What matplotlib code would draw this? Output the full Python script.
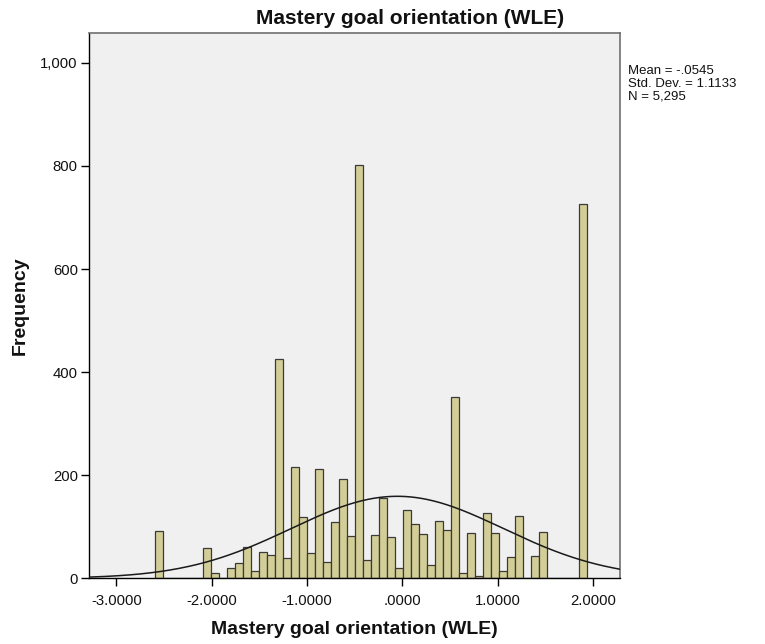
import numpy as np
import matplotlib
matplotlib.use("Agg")
import matplotlib.pyplot as plt

plt.rcParams['font.family'] = ['Liberation Sans', 'DejaVu Sans']

# Histogram data (bins of equal width starting at bin_start)
bin_start = -2.590
bin_width = 0.08386
counts = [92, 0, 0, 0, 0, 0, 58, 10, 0, 20,
          30, 60, 15, 52, 46, 426, 39, 216, 119, 50,
          213, 31, 109, 193, 83, 802, 36, 84, 155, 81,
          20, 132, 105, 86, 26, 111, 93, 351, 10, 87,
          4, 126, 87, 15, 41, 121, 0, 43, 90, 0,
          0, 0, 0, 727]

# Summary statistics
mean_val = -0.0545
sd_val = 1.1133
n_val = 5295

x_ticks = [-3, -2, -1, 0, 1, 2]
x_tick_labels = ["-3.0000", "-2.0000", "-1.0000", ".0000", "1.0000", "2.0000"]
y_ticks = [0, 200, 400, 600, 800, 1000]
y_tick_labels = ["0", "200", "400", "600", "800", "1,000"]

title = "Mastery goal orientation (WLE)"
xlabel = "Mastery goal orientation (WLE)"
ylabel = "Frequency"

fig = plt.figure(figsize=(7.65, 6.44), dpi=100)
ax = fig.add_axes([0.1163, 0.102, 0.8105 - 0.1163, 0.9488 - 0.102])
ax.set_facecolor('#F0F0F0')

lefts = bin_start + bin_width * np.arange(len(counts))
ax.bar(lefts, counts, width=bin_width, align='edge', color='#D3CE97',
       edgecolor='#3a3a3a', linewidth=0.9, zorder=2)

xmin, xmax = -3.287, 2.281
xs = np.linspace(xmin, xmax, 400)
ys = n_val * bin_width / (sd_val * np.sqrt(2 * np.pi)) * np.exp(-0.5 * ((xs - mean_val) / sd_val) ** 2)
ax.plot(xs, ys, color='#1a1a1a', linewidth=1.1, zorder=3)

ax.set_xlim(xmin, xmax)
ax.set_ylim(0, 1058)
ax.set_xticks(x_ticks)
ax.set_xticklabels(x_tick_labels)
ax.set_yticks(y_ticks)
ax.set_yticklabels(y_tick_labels)
ax.tick_params(axis='both', direction='out', length=6, width=1.0, color='black',
               labelsize=10.7, labelcolor='#111111')
ax.tick_params(axis='x', pad=5)
ax.tick_params(axis='y', pad=2)

for side in ['left', 'bottom']:
    ax.spines[side].set_color('black')
    ax.spines[side].set_linewidth(1.0)
for side in ['top', 'right']:
    ax.spines[side].set_color('#707070')
    ax.spines[side].set_linewidth(1.2)

fig.text(410 / 765, 1 - 18 / 644, title, ha='center', va='center',
         fontsize=15, fontweight='bold', color='#111111')
fig.text(354 / 765, 1 - 630 / 644, xlabel, ha='center', va='center',
         fontsize=14, fontweight='bold', color='#111111')
fig.text(20 / 765, 1 - 306 / 644, ylabel, ha='center', va='center',
         rotation=90, fontsize=14, fontweight='bold', color='#111111')

stats = "Mean = -.0545\nStd. Dev. = 1.1133\nN = 5,295"
fig.text(628 / 765, 1 - 65 / 644, stats, ha='left', va='top', fontsize=9.5,
         color='#111111', linespacing=1.08)

fig.savefig('out.png', dpi=100)
